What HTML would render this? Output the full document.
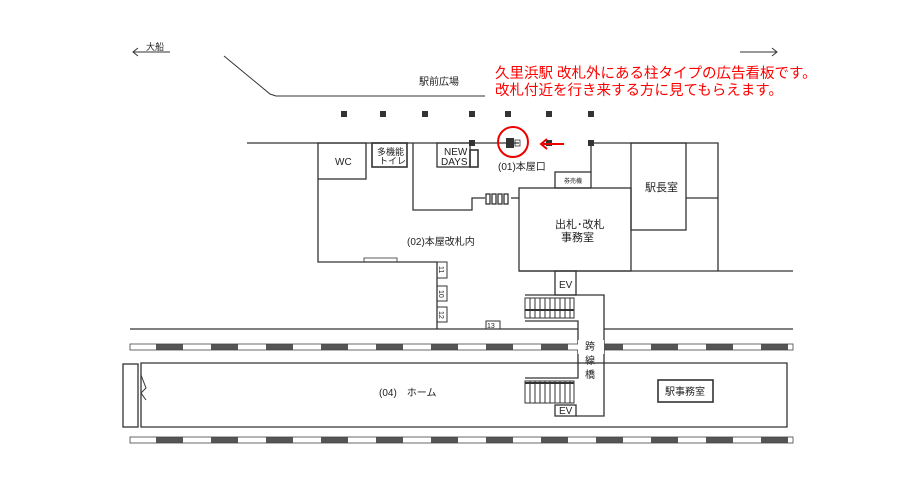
<!DOCTYPE html>
<html><head><meta charset="utf-8"><style>
html,body{margin:0;padding:0;background:#fff;}
svg{display:block;font-family:"Liberation Sans","Noto Sans CJK JP",sans-serif;}
</style></head><body>
<svg width="919" height="491" viewBox="0 0 919 491" xmlns="http://www.w3.org/2000/svg">
<defs>
<pattern id="trk" x="128" y="0" width="55" height="10" patternUnits="userSpaceOnUse">
<rect x="0" y="0" width="55" height="10" fill="#fff"/>
<rect x="28" y="0" width="28" height="10" fill="#555"/>
</pattern>
</defs>
<g stroke="#333" fill="none" stroke-width="1.3">
<line x1="133" y1="52" x2="170" y2="52" stroke-width="1"/>
<polyline points="138,48 133,52 138,56" stroke-width="1"/>
<line x1="740" y1="52" x2="777" y2="52" stroke-width="1"/>
<polyline points="772,48 777,52 772,56" stroke-width="1"/>
<polyline points="224,56 270,94 276,96 485,96" stroke-width="1"/>
<line x1="247" y1="143" x2="519" y2="143"/>
<polyline points="591,172 591,143 718,143 718,271"/>
<rect x="631" y="143" width="55" height="87"/>
<line x1="686" y1="198" x2="718" y2="198"/>
<line x1="519" y1="271" x2="793" y2="271"/>
<rect x="519" y="188" width="112" height="83"/>
<rect x="555" y="172" width="36" height="16"/>
<rect x="318" y="143" width="48" height="36"/>
<polyline points="318,179 318,262 437,262 437,329"/>
<rect x="372" y="143" width="35" height="24" stroke-width="1.6"/>
<rect x="437" y="143" width="33" height="24"/>
<rect x="470" y="150" width="8" height="17" stroke-width="1.6"/>
<polyline points="413,143 413,210 472,210 472,198 485,198"/>
<line x1="511" y1="198" x2="519" y2="198"/>
<rect x="486" y="194" width="4" height="10"/>
<rect x="492" y="194" width="4" height="10"/>
<rect x="498" y="194" width="4" height="10"/>
<rect x="504" y="194" width="4" height="10"/>
<rect x="364" y="258" width="33" height="4" stroke-width="0.8"/>
<rect x="437" y="262" width="10" height="16" stroke-width="1"/>
<rect x="437" y="286" width="10" height="15" stroke-width="1"/>
<rect x="437" y="307" width="10" height="15" stroke-width="1"/>
<rect x="486" y="321" width="14" height="8" stroke-width="1"/>
<line x1="130" y1="329" x2="578" y2="329"/>
<line x1="604" y1="329" x2="793" y2="329"/>
<rect x="555" y="271" width="21" height="24"/>
<polyline points="525,295 604,295 604,416 576,416"/>
<polyline points="525,321 578,321 578,378 525,378"/>
<rect x="555" y="405" width="21" height="11"/>
<polyline points="578,363 787,363 787,427 141,427 141,363 578,363"/>
<rect x="123" y="364" width="15" height="63"/>
<polyline points="141,375 146,388 141,393 146,400" stroke-width="1"/>
<rect x="658" y="380" width="55" height="22" stroke-width="1.6"/>
</g>
<g stroke="#333" stroke-width="1">
<rect x="525" y="298" width="49" height="20" fill="#fff"/>
<line x1="525" y1="310" x2="574" y2="310" stroke-width="2"/>
<rect x="525" y="381" width="49" height="22" fill="#fff"/>
<line x1="525" y1="383" x2="574" y2="383" stroke-width="2"/>
<path d="M530 298v20M535 298v20M540 298v20M545 298v20M550 298v20M555 298v20M560 298v20M565 298v20M570 298v20M530 381v22M535 381v22M540 381v22M545 381v22M550 381v22M555 381v22M560 381v22M565 381v22M570 381v22"/>
</g>
<rect x="130" y="344" width="663" height="6" fill="url(#trk)" stroke="#444" stroke-width="0.8"/>
<rect x="130" y="437" width="663" height="6" fill="url(#trk)" stroke="#444" stroke-width="0.8"/>
<rect x="578" y="340" width="26" height="14" fill="#fff"/>
<g fill="#333">
<rect x="341" y="111" width="6" height="6"/><rect x="380" y="111" width="6" height="6"/>
<rect x="422" y="111" width="6" height="6"/><rect x="469" y="111" width="6" height="6"/>
<rect x="505" y="111" width="6" height="6"/><rect x="546" y="111" width="6" height="6"/>
<rect x="588" y="111" width="6" height="6"/>
<rect x="469" y="140" width="6" height="6"/><rect x="546" y="140" width="6" height="6"/>
<rect x="588" y="140" width="6" height="6"/>
<rect x="506" y="138" width="8" height="10"/>
</g>
<rect x="515" y="140" width="5" height="6" fill="none" stroke="#333" stroke-width="0.8"/>
<circle cx="513" cy="142" r="15" fill="none" stroke="#e00" stroke-width="2"/>
<line x1="542" y1="144" x2="564" y2="144" stroke="#e00" stroke-width="2"/>
<polyline points="547,139 541,144 547,149" fill="none" stroke="#e00" stroke-width="2"/>
<g fill="#222" font-size="10">
<text x="146" y="50" font-size="9">大船</text>
<text x="419" y="85">駅前広場</text>
<text x="335" y="165">WC</text>
<text x="377" y="155" font-size="9">多機能</text>
<text x="379" y="164" font-size="9">トイレ</text>
<text x="444" y="155">NEW</text>
<text x="441" y="165">DAYS</text>
<text x="498" y="170">(01)本屋口</text>
<text x="564" y="183" font-size="6">券売機</text>
<text x="645" y="191" font-size="11">駅長室</text>
<text x="555" y="228" font-size="11">出札･改札</text>
<text x="561" y="241" font-size="11">事務室</text>
<text x="407" y="245">(02)本屋改札内</text>
<text x="559" y="288">EV</text>
<text x="559" y="414">EV</text>
<text x="487" y="328" font-size="7">13</text>
<text x="585" y="350" font-size="10">跨</text>
<text x="585" y="364" font-size="10">線</text>
<text x="585" y="378" font-size="10">橋</text>
<text x="379" y="396">(04)　ホーム</text>
<text x="665" y="395" font-size="10">駅事務室</text>
<g font-size="7" transform="rotate(90)">
<text x="266" y="-439">11</text><text x="290" y="-439">10</text><text x="311" y="-439">12</text>
</g>
</g>
<g fill="#f00" font-size="14.5">
<text x="495" y="78">久里浜駅 改札外にある柱タイプの広告看板です。</text>
<text x="495" y="95">改札付近を行き来する方に見てもらえます。</text>
</g>
</svg>
</body></html>
